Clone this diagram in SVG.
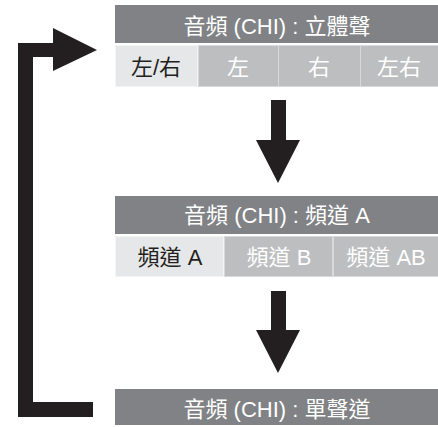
<svg xmlns="http://www.w3.org/2000/svg" width="438" height="427" viewBox="0 0 438 427">
<defs>
<style>
.hdr{fill:#808285}
.sel{fill:#e6e7e8;stroke:#f4f4f5;stroke-width:1}
.tab{fill:#bcbec0;stroke:#d8d9da;stroke-width:1}
.ht{font-family:"Liberation Sans","Noto Sans CJK TC",sans-serif;font-size:22px;fill:#ffffff;text-anchor:middle}
.st{font-family:"Liberation Sans","Noto Sans CJK TC",sans-serif;font-size:22px;fill:#231f20;text-anchor:middle}
.ut{font-family:"Liberation Sans","Noto Sans CJK TC",sans-serif;font-size:22px;fill:#ffffff;text-anchor:middle}
.arr{fill:#231f20}
</style>
</defs>
<rect width="438" height="427" fill="#ffffff"/>
<g id="stereo">
<rect class="hdr" x="115" y="5" width="323" height="38"/>
<text class="ht" x="277" y="34">音頻 (CHI) : 立體聲</text>
<rect class="sel" x="115.5" y="45.5" width="82" height="41"/>
<rect class="tab" x="198.5" y="45.5" width="80" height="41"/>
<rect class="tab" x="278.5" y="45.5" width="82" height="41"/>
<rect class="tab" x="360.5" y="45.5" width="78" height="41"/>
<text class="st" x="156" y="75">左/右</text>
<text class="ut" x="238" y="75">左</text>
<text class="ut" x="319" y="75">右</text>
<text class="ut" x="399" y="75">左右</text>
</g>
<g id="channelA">
<rect class="hdr" x="115" y="196" width="323" height="38"/>
<text class="ht" x="277" y="223">音頻 (CHI) : 頻道 A</text>
<rect class="sel" x="115.5" y="236.5" width="108" height="40"/>
<rect class="tab" x="224.5" y="236.5" width="108" height="40"/>
<rect class="tab" x="333.5" y="236.5" width="105" height="40"/>
<text class="st" x="170" y="265">頻道 A</text>
<text class="ut" x="279" y="265">頻道 B</text>
<text class="ut" x="386" y="265">頻道 AB</text>
</g>
<g id="mono">
<rect class="hdr" x="115" y="389" width="323" height="36"/>
<text class="ht" x="277" y="417">音頻 (CHI) : 單聲道</text>
</g>
<g id="connectors">
<polygon class="arr" points="271,100 286,100 286,140 300,140 278,183 256,140 271,140"/>
<polygon class="arr" points="271,291 286,291 286,330 300,330 278,373 256,330 271,330"/>
<polygon class="arr" points="93,402 93,417 18,417 18,43 53,43 53,28 97,50 53,71 53,57 33,57 33,402"/>
</g>
</svg>
